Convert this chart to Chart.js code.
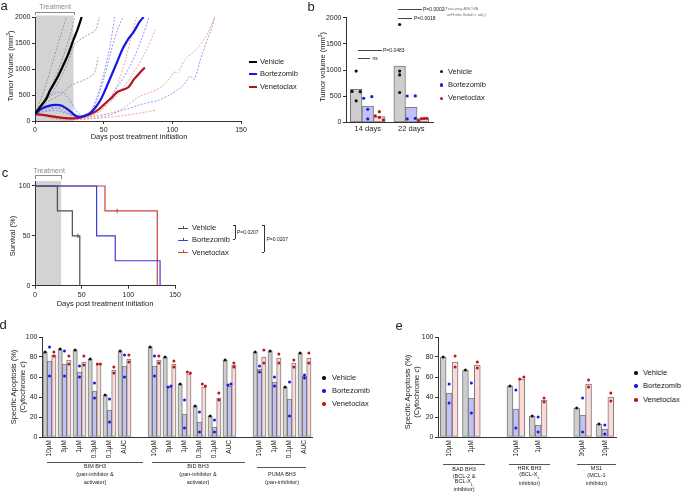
<!DOCTYPE html>
<html>
<head>
<meta charset="utf-8">
<script src="https://cdn.jsdelivr.net/npm/chart.js@4.4.0/dist/chart.umd.min.js"></script>
<style>
  html, body { margin: 0; padding: 0; background: #fff; }
  #fig { position: relative; width: 682px; height: 494px; overflow: hidden;
         font-family: 'Liberation Sans', Arial, Helvetica, sans-serif; color: #222; }
  #fig canvas { position: absolute; }
  .t { position: absolute; white-space: nowrap; line-height: 1; }
  .ln { position: absolute; background: #333; }
  .dot { position: absolute; width: 3.4px; height: 3.4px; border-radius: 50%; }
</style>
</head>
<body>
<div id="fig">
  <canvas id="chartA" width="250" height="140" style="left:0;top:0"></canvas>
  <canvas id="chartB" width="140" height="140" style="left:300px;top:0"></canvas>
  <canvas id="chartC" width="185" height="145" style="left:0;top:165px"></canvas>
  <canvas id="chartD" width="320" height="145" style="left:0;top:325px"></canvas>
  <canvas id="chartE" width="230" height="145" style="left:395px;top:325px"></canvas>
</div>
<script>
// ---- panel a : tumour growth curves (days / mm3) ----
const aVehMeanDays = [0, 4, 8, 11, 16, 20, 24, 28, 31, 34];
const aVehMeanVol  = [140, 280, 420, 590, 820, 1040, 1270, 1560, 1760, 2000];
const aVeh1Days = [0, 4, 8, 12, 17, 23];
const aVeh1Vol  = [140, 400, 700, 1050, 1500, 2000];
const aVeh2Days = [0, 5, 10, 15, 20, 25, 29];
const aVeh2Vol  = [150, 330, 560, 850, 1200, 1600, 2000];
const aVeh3Days = [0, 5, 10, 15, 20, 25, 29, 38, 44, 47];
const aVeh3Vol  = [130, 290, 450, 650, 900, 1200, 1480, 1650, 1750, 2000];
const aVeh4Days = [0, 10, 20, 26, 35, 42, 44, 46];
const aVeh4Vol  = [140, 380, 530, 680, 780, 880, 980, 1220];

const aBortMeanDays = [0, 5, 10, 15, 20, 25, 29, 32, 36, 40, 44, 48, 52, 56, 60, 64, 68, 72, 76, 79];
const aBortMeanVol  = [140, 240, 290, 310, 290, 200, 110, 80, 100, 150, 260, 420, 650, 900, 1150, 1400, 1580, 1720, 1900, 2000];
const aBort1Days = [0, 5, 10, 15, 20, 25, 30, 34, 40, 45, 50, 55, 60, 64];
const aBort1Vol  = [140, 300, 450, 540, 550, 420, 200, 100, 150, 400, 800, 1300, 1750, 2000];
const aBort2Days = [0, 5, 10, 15, 20, 25, 30, 35, 40, 45, 50, 55, 58];
const aBort2Vol  = [140, 220, 260, 250, 200, 130, 80, 70, 150, 450, 900, 1500, 2000];
const aBort3Days = [0, 10, 20, 30, 40, 50, 60, 70, 78, 83];
const aBort3Vol  = [140, 220, 250, 100, 120, 300, 650, 1100, 1600, 2000];
const aBort4Days = [0, 15, 30, 40, 60, 80, 90, 100, 105, 109, 113, 116, 121, 128, 131];
const aBort4Vol  = [140, 200, 90, 80, 180, 340, 400, 530, 620, 720, 860, 800, 1230, 1740, 2000];

const aVenMeanDays = [0, 5, 10, 15, 20, 25, 28, 32, 36, 40, 44, 48, 52, 56, 60, 64, 68, 72, 76, 80];
const aVenMeanVol  = [130, 120, 100, 80, 60, 50, 50, 60, 90, 130, 180, 260, 360, 450, 560, 600, 650, 800, 920, 1030];
const aVen1Days = [0, 10, 20, 30, 40, 50, 60, 66, 70, 74];
const aVen1Vol  = [130, 100, 60, 40, 80, 250, 700, 1200, 1600, 2000];
const aVen2Days = [0, 10, 20, 30, 40, 50, 60, 70, 80, 88];
const aVen2Vol  = [130, 90, 50, 40, 90, 250, 500, 850, 1300, 1780];
const aVen3Days = [0, 20, 40, 55, 66, 76, 90, 100, 101, 104, 109, 119, 125, 131];
const aVen3Vol  = [130, 40, 50, 120, 275, 470, 620, 880, 940, 930, 1170, 1420, 1650, 2000];
const aVen4Days = [0, 20, 40, 60, 80, 88];
const aVen4Vol  = [130, 20, 40, 90, 170, 210];
const aTicksX = [0, 50, 100, 150];

// ---- panel b : tumour volume at 14 / 22 days ----
const bCats = ['14 days', '22 days'];
const bVeh  = [630, 1076];
const bBort = [312, 287];
const bVen  = [108, 70];
const bVehPts  = [[980, 590, 585, 410], [1870, 980, 905, 570]];
const bBortPts = [[460, 490, 250, 64], [503, 505, 64, 76]];
const bVenPts  = [[204, 121, 96, 45], [32, 70, 74, 76]];

// ---- panel c : survival (Kaplan-Meier) ----
const cVehDays  = [0, 24, 40, 48];
const cVehSurv  = [100, 75, 50, 0];
const cBortDays = [0, 66, 86, 134];
const cBortSurv = [100, 50, 25, 0];
const cVenDays  = [0, 75, 131];
const cVenSurv  = [100, 75, 0];
const cVehCensor = [46];  const cVehCensorSurv = [50];
const cVenCensor = [88];  const cVenCensorSurv = [75];

// ---- panel d : BH3 profiling ----
const dCats = ['10µM', '3µM', '1µM', '0.3µM', '0.1µM', 'AUC', '',
               '10µM', '3µM', '1µM', '0.3µM', '0.1µM', 'AUC', '',
               '10µM', '1µM', '0.1µM', 'AUC'];
const dVeh  = [85, 88, 87, 78, 42, 86, null, 90, 80, 53, 31, 21, 77, null, 85, 86, 50, 84];
const dBort = [76, 73, 65, 46, 27, 71, null, 71, 50, 23, 15, 10, 51, null, 68, 55, 38, 61];
const dVen  = [82, 77, 75, 73, 67, 78, null, 77, 73, 63, 50, 39, 72, null, 80, 79, 74, 79];
const dVehPts   = [85, 88, 87, 78, 42, 86, null, 90, 80, 53, 31, 21, 77, null, 85, 86, 50, 84];
const dBortPts1 = [90, 86, 71, 54, 38, 82, null, 81, 50, 37, 25, 17, 52, null, 71, 60, 55, 59];
const dBortPts2 = [61, 61, 60, 39, 15, 60, null, 61, 51, 9, 5, 5, 53, null, 65, 51, 21, 62];
const dVenPts1  = [85, 81, 81, 73, 70, 82, null, 81, 76, 65, 53, 44, 74, null, 87, 83, 77, 84];
const dVenPts2  = [81, 73, 72, 73, 64, 75, null, 74, 70, 64, 51, 37, 70, null, 74, 74, 70, 74];

// ---- panel e ----
const eCats = ['10µM', '1µM', '', '10µM', '1µM', '', '30µM', '10µM'];
const eVeh  = [80, 67, null, 51, 21, null, 29, 13];
const eBort = [44, 39, null, 28, 12, null, 22, 8];
const eVen  = [75, 72, null, 58, 37, null, 53, 40];
const eVehPts   = [80, 67, null, 51, 21, null, 29, 13];
const eBortPts1 = [53, 54, null, 47, 20, null, 39, 12];
const eBortPts2 = [34, 24, null, 9, 5, null, 5, 3];
const eVenPts1  = [81, 75, null, 58, 39, null, 57, 44];
const eVenPts2  = [70, 69, null, 60, 35, null, 50, 36];

const COL = {
    veh: '#000000', bort: '#1717e8', ven: '#b3141e',
    vehInd: '#8c8c8c', bortInd: '#7d7df2', venInd: '#ee8a8a',
    vehFill: '#cecece', bortFill: '#c2c2f6', venFill: '#fcdada', barEdge: '#7a7a7a',
    vehDot: '#111111', bortDot: '#1a1ae0', venDot: '#c21616',
    kmVeh: '#4d4d4d', kmBort: '#3a3ade', kmVen: '#cc4040'
};

Chart.defaults.font.family = "'Liberation Sans', Arial, Helvetica, sans-serif";
Chart.defaults.color = '#222';
Chart.defaults.animation = false;
Chart.defaults.responsive = false;
Chart.defaults.plugins.legend.display = false;
Chart.defaults.plugins.tooltip.enabled = false;

const pts = (xs, ys) => xs.map((x, i) => ({ x, y: ys[i] }));
const plain = v => String(v);

function axis(o) {
    const base = {
        border: { color: '#333', width: 1 },
        grid: { drawOnChartArea: false, tickLength: 3, color: '#333' },
        ticks: { font: { size: 7 }, color: '#222', padding: 1.5, callback: plain }
    };
    return Object.assign(base, o, { ticks: Object.assign(base.ticks, o.ticks || {}) });
}
const noGrid = { display: false, drawTicks: false, tickLength: 0, offset: false };

// grey treatment window behind the data
const treatmentBand = {
    id: 'band',
    beforeDraw(chart, args, opts) {
        const { ctx, chartArea, scales: { x } } = chart;
        const x0 = x.getPixelForValue(opts.from) + 0.5;
        const x1 = x.getPixelForValue(opts.to);
        ctx.save();
        ctx.fillStyle = '#d3d3d3';
        ctx.fillRect(x0, chartArea.top - (opts.over || 0), x1 - x0, chartArea.bottom - chartArea.top + (opts.over || 0));
        ctx.restore();
    }
};

/**
 * panel a
 */
function lineDs(xs, ys, color, width, dashed, order) {
    return {
        data: pts(xs, ys),
        borderColor: color,
        borderWidth: width,
        borderDash: dashed ? [2, 1.5] : [],
        pointRadius: 0,
        tension: 0.3,
        fill: false,
        order
    };
}

new Chart(document.getElementById('chartA'), {
    type: 'line',
    data: {
        datasets: [
            lineDs(aVehMeanDays, aVehMeanVol, COL.veh, 2.2, false, 0),
            lineDs(aBortMeanDays, aBortMeanVol, COL.bort, 2.2, false, 0),
            lineDs(aVenMeanDays, aVenMeanVol, COL.ven, 2.2, false, 0),
            lineDs(aVeh1Days, aVeh1Vol, COL.vehInd, 0.8, true, 1),
            lineDs(aVeh2Days, aVeh2Vol, COL.vehInd, 0.8, true, 1),
            lineDs(aVeh3Days, aVeh3Vol, COL.vehInd, 0.8, true, 1),
            lineDs(aVeh4Days, aVeh4Vol, COL.vehInd, 0.8, true, 1),
            lineDs(aBort1Days, aBort1Vol, COL.bortInd, 0.8, true, 1),
            lineDs(aBort2Days, aBort2Vol, COL.bortInd, 0.8, true, 1),
            lineDs(aBort3Days, aBort3Vol, COL.bortInd, 0.8, true, 1),
            lineDs(aBort4Days, aBort4Vol, COL.bortInd, 0.8, true, 1),
            lineDs(aVen1Days, aVen1Vol, COL.venInd, 0.8, true, 1),
            lineDs(aVen2Days, aVen2Vol, COL.venInd, 0.8, true, 1),
            lineDs(aVen3Days, aVen3Vol, COL.venInd, 0.8, true, 1),
            lineDs(aVen4Days, aVen4Vol, COL.venInd, 0.8, true, 1)
        ]
    },
    options: {
        layout: { padding: { top: 17, right: 9, left: 0, bottom: 0 } },
        plugins: { band: { from: 0, to: 28, over: 1.5 } },
        scales: {
            x: axis({ type: 'linear', min: 0, max: 150,
                      afterBuildTicks: s => { s.ticks = aTicksX.map(v => ({ value: v })); },
                      ticks: { padding: 2 },
                      afterFit: s => { s.height = 19; } }),
            y: axis({ min: 0, max: 2000, ticks: { stepSize: 500 },
                      afterFit: s => { s.width = 35; } })
        }
    },
    plugins: [treatmentBand]
});

/**
 * bar + dot panels (b, d, e): one linear x axis, category i sits at value i,
 * tick labels come from the category array
 */
function spread(vals, thr) {
    return vals.map((v, i) => {
        const near = vals.map((w, k) => k).filter(k => Math.abs(vals[k] - v) < thr);
        const n = near.length;
        return n === 1 ? 0 : (near.indexOf(i) / (n - 1) - 0.5) * 0.7;
    });
}

// position of series j (0..2) within category i
const slot = (i, j, pct) => i + (j - 1) * pct / 3;

function barDs(values, j, fill, pct, thick) {
    const data = [];
    values.forEach((v, i) => { if (v !== null) data.push({ x: slot(i, j, pct), y: v }); });
    return {
        type: 'bar', data, grouped: false, barThickness: thick,
        backgroundColor: fill, borderColor: COL.barEdge, borderWidth: 1, borderSkipped: false,
        order: 2
    };
}

function dotDs(list, color, r) {
    return { type: 'scatter', data: list, backgroundColor: color,
             borderWidth: 0, pointRadius: r, order: 0 };
}

function groupedDots(seriesPts, j, pct, thr) {
    const out = [];
    seriesPts.forEach((vals, i) => {
        const clean = vals.filter(v => v !== null && v !== undefined);
        const off = spread(clean, thr);
        clean.forEach((v, k) => out.push({ x: slot(i, j, pct) + off[k] * pct / 3, y: v }));
    });
    return out;
}

function catAxis(cats, extraTicks, h) {
    return axis({
        type: 'linear', offset: false, min: -0.5, max: cats.length - 0.5, grid: noGrid,
        afterBuildTicks: s => { s.ticks = cats.map((c, i) => ({ value: i })); },
        ticks: Object.assign({ callback: v => cats[Math.round(v)] }, extraTicks),
        afterFit: s => { s.height = h; }
    });
}

// panel b
const bPct = 0.8;
new Chart(document.getElementById('chartB'), {
    type: 'bar',
    data: {
        datasets: [
            barDs(bVeh, 0, COL.vehFill, bPct, 11.6),
            barDs(bBort, 1, COL.bortFill, bPct, 11.6),
            barDs(bVen, 2, COL.venFill, bPct, 11.6),
            dotDs(groupedDots(bVehPts, 0, bPct, 60), COL.vehDot, 1.6),
            dotDs(groupedDots(bBortPts, 1, bPct, 60), COL.bortDot, 1.6),
            dotDs(groupedDots(bVenPts, 2, bPct, 60), COL.venDot, 1.6)
        ]
    },
    options: {
        layout: { padding: { top: 17.7, right: 7, left: 0, bottom: 0 } },
        scales: {
            x: catAxis(bCats, { font: { size: 7.5 }, padding: 2.5, maxRotation: 0, autoSkip: false }, 17.7),
            y: axis({ min: 0, max: 2000, ticks: { stepSize: 500 }, afterFit: s => { s.width = 46; } })
        }
    }
});

function profileChart(id, cats, veh, bort, ven, vehPts, bortPts1, bortPts2, venPts1, venPts2, pct, thick, yw, pr) {
    const pair = (a, b) => a.map((v, i) => [v, b[i]]);
    new Chart(document.getElementById(id), {
        type: 'bar',
        data: {
            datasets: [
                barDs(veh, 0, COL.vehFill, pct, thick),
                barDs(bort, 1, COL.bortFill, pct, thick),
                barDs(ven, 2, COL.venFill, pct, thick),
                dotDs(groupedDots(vehPts.map(v => [v]), 0, pct, 3), COL.vehDot, 1.5),
                dotDs(groupedDots(pair(bortPts1, bortPts2), 1, pct, 3), COL.bortDot, 1.5),
                dotDs(groupedDots(pair(venPts1, venPts2), 2, pct, 3), COL.venDot, 1.5)
            ]
        },
        options: {
            layout: { padding: { top: 12, right: pr, left: 0, bottom: 0 } },
            scales: {
                x: catAxis(cats, { autoSkip: false, maxRotation: 90, minRotation: 90, font: { size: 6.5 }, padding: 3 }, 33),
                y: axis({ min: 0, max: 100, ticks: { stepSize: 20 }, afterFit: s => { s.width = yw; } })
            }
        }
    });
}

profileChart('chartD', dCats, dVeh, dBort, dVen, dVehPts, dBortPts1, dBortPts2, dVenPts1, dVenPts2, 0.87, 4.35, 42, 8);
profileChart('chartE', eCats, eVeh, eBort, eVen, eVehPts, eBortPts1, eBortPts2, eVenPts1, eVenPts2, 0.8, 5.9, 43, 9);

/**
 * panel c
 */
function kmDs(xs, ys, color) {
    return { data: pts(xs, ys), borderColor: color, borderWidth: 1.2, stepped: 'before',
             pointRadius: 0, fill: false, order: 1 };
}
function censorDs(xs, ys, color) {
    return { data: pts(xs, ys), showLine: false, pointStyle: 'line', rotation: 90,
             pointRadius: 2.2, borderColor: color, pointBorderWidth: 1, order: 0 };
}
new Chart(document.getElementById('chartC'), {
    type: 'line',
    data: {
        datasets: [
            kmDs(cVehDays, cVehSurv, COL.kmVeh),
            kmDs(cBortDays, cBortSurv, COL.kmBort),
            kmDs(cVenDays, cVenSurv, COL.kmVen),
            censorDs(cVehCensor, cVehCensorSurv, COL.kmVeh),
            censorDs(cVenCensor, cVenCensorSurv, COL.kmVen)
        ]
    },
    options: {
        layout: { padding: { top: 16, right: 10, left: 0, bottom: 0 } },
        plugins: { band: { from: 0, to: 28 } },
        scales: {
            x: axis({ type: 'linear', min: 0, max: 150, ticks: { stepSize: 50, padding: 2 },
                      afterFit: s => { s.height = 24.3; } }),
            y: axis({ min: 0, max: 105, ticks: { stepSize: 50, includeBounds: false },
                      afterFit: s => { s.width = 35; } })
        }
    },
    plugins: [treatmentBand]
});

/**
 * text, legends, brackets
 */
const fig = document.getElementById('fig');
function txt(html, x, y, size, o = {}) {
    const el = document.createElement('div');
    el.className = 't';
    el.innerHTML = html;
    el.style.left = x + 'px';
    el.style.top = y + 'px';
    el.style.fontSize = size + 'px';
    if (o.rot) el.style.transform = 'translate(-50%,-50%) rotate(-90deg)';
    else if (o.left) el.style.transform = 'translate(0,-50%)';
    else el.style.transform = 'translate(-50%,-50%)';
    el.style.color = o.color || '#222';
    fig.appendChild(el);
}
function line(x, y, w, h, color) {
    const el = document.createElement('div');
    el.className = 'ln';
    Object.assign(el.style, { left: x + 'px', top: y + 'px', width: w + 'px', height: h + 'px' });
    if (color) el.style.background = color;
    fig.appendChild(el);
}
function dot(x, y, color) {
    const el = document.createElement('div');
    el.className = 'dot';
    Object.assign(el.style, { left: (x - 1.7) + 'px', top: (y - 1.7) + 'px', background: color });
    fig.appendChild(el);
}

// panel letters
txt('a', 4, 5, 13);
txt('b', 311, 6, 13);
txt('c', 5, 172, 13);
txt('d', 3, 324, 13);
txt('e', 399, 325, 13);

// panel a
txt('Tumor Volume (mm<sup style="font-size:5px">3</sup>)', 10, 66, 7.5, { rot: true });
txt('Days post treatment initiation', 139, 136.5, 7.5);
txt('Treatment', 55, 6, 7, { color: '#8a8a8a' });
line(35, 11.5, 39.5, 1, '#8a8a8a');
line(35, 11.5, 1, 3.5, '#8a8a8a');
line(73.5, 11.5, 1, 3.5, '#8a8a8a');
[['Vehicle', COL.veh, 61.7], ['Bortezomib', COL.bort, 74.3], ['Venetoclax', COL.ven, 87.3]].forEach(([n, c, y]) => {
    line(249, y - 1, 8, 2, c);
    txt(n, 260, y, 7.5, { left: true });
});

// panel b
txt('Tumor volume (mm<sup style="font-size:5px">3</sup>)', 322, 67, 7.5, { rot: true });
[['Vehicle', COL.vehDot, 71.7], ['Bortezomib', COL.bortDot, 85], ['Venetoclax', COL.venDot, 98.3]].forEach(([n, c, y]) => {
    dot(441.3, y, c);
    txt(n, 448, y, 7.5, { left: true });
});
line(398, 9, 24, 0.8, '#444');
txt('P=0.0002', 423, 9.3, 5, { left: true });
txt('(Two-way ANOVA', 444, 9.3, 4.3, { left: true, color: '#777' });
txt('w/Holm-Sidak\'s adj.)', 447, 15, 4.3, { left: true, color: '#777' });
line(398, 18, 14, 0.8, '#444');
txt('P=0.0018', 414, 18.3, 5, { left: true });
line(358, 49.7, 24, 0.8, '#444');
txt('P=0.0483', 383, 50, 5, { left: true });
line(358, 58, 12, 0.8, '#444');
txt('ns', 372.5, 58, 5, { left: true });

// panel c
txt('Survival (%)', 13, 236, 7.5, { rot: true });
txt('Days post treatment initiation', 105, 304, 7.5);
txt('Treatment', 49, 170, 7, { color: '#8a8a8a' });
line(35, 175, 26, 1, '#8a8a8a');
line(35, 175, 1, 3.5, '#8a8a8a');
line(60.5, 175, 1, 3.5, '#8a8a8a');
[['Vehicle', COL.kmVeh, 228.3], ['Bortezomib', COL.kmBort, 240], ['Venetoclax', COL.kmVen, 252.7]].forEach(([n, c, y]) => {
    line(178, y - 0.5, 10, 1, c);
    line(182.5, y - 2.5, 1, 3, c);
    txt(n, 192, y, 7.5, { left: true });
});
line(234.5, 225, 0.8, 14.3, '#333');
line(232.5, 225, 2.5, 0.8, '#333');
line(232.5, 238.7, 2.5, 0.8, '#333');
txt('P=0.0207', 237, 232.3, 5, { left: true });
line(263.5, 225, 0.8, 27.3, '#333');
line(261.5, 225, 2.5, 0.8, '#333');
line(261.5, 251.7, 2.5, 0.8, '#333');
txt('P=0.0207', 266.5, 238.5, 5, { left: true });

// panel d
txt('Specific Apoptosis (%)', 13.5, 387, 7.5, { rot: true });
txt('(Cytochrome <i>c</i>)', 23, 387, 7.5, { rot: true });
[['Vehicle', COL.vehDot, 378], ['Bortezomib', COL.bortDot, 391], ['Venetoclax', COL.venDot, 404]].forEach(([n, c, y]) => {
    dot(324, y, c);
    txt(n, 332, y, 7.5, { left: true });
});
line(47, 461.5, 96, 0.8, '#555');
txt('BIM BH3', 95, 467, 5.5);
txt('(pan-inhibitor &amp;', 95, 475, 5.5);
txt('activator)', 95, 482.5, 5.5);
line(152, 461.5, 93, 0.8, '#555');
txt('BID BH3', 198, 467, 5.5);
txt('(pan-inhibitor &amp;', 198, 475, 5.5);
txt('activator)', 198, 482.5, 5.5);
line(257, 466.5, 49, 0.8, '#555');
txt('PUMA BH3', 282, 474.5, 5.5);
txt('(pan-inhibitor)', 282, 483, 5.5);

// panel e
txt('Specific Apoptosis (%)', 408, 392, 7.5, { rot: true });
txt('(Cytochrome <i>c</i>)', 417, 392, 7.5, { rot: true });
[['Vehicle', COL.vehDot, 373], ['Bortezomib', COL.bortDot, 386], ['Venetoclax', COL.venDot, 400]].forEach(([n, c, y]) => {
    dot(636, y, c);
    txt(n, 643, y, 7.5, { left: true });
});
line(443, 464, 42, 0.8, '#555');
txt('BAD BH3', 464, 470, 5.5);
txt('(BCL-2 &amp;', 464, 476.5, 5.5);
txt('BCL-X<sub style="font-size:4px">L</sub>', 464, 483, 5.5);
txt('inhibitor)', 464, 489.5, 5.5);
line(509, 464, 41, 0.8, '#555');
txt('HRK BH3', 529.5, 468.5, 5.5);
txt('(BCL-X<sub style="font-size:4px">L</sub>', 529.5, 476, 5.5);
txt('inhibitor)', 529.5, 484, 5.5);
line(577, 464, 39, 0.8, '#555');
txt('MS1', 596.5, 468.5, 5.5);
txt('(MCL-1', 596.5, 476, 5.5);
txt('inhibitor)', 596.5, 484, 5.5);
</script>
</body>
</html>
